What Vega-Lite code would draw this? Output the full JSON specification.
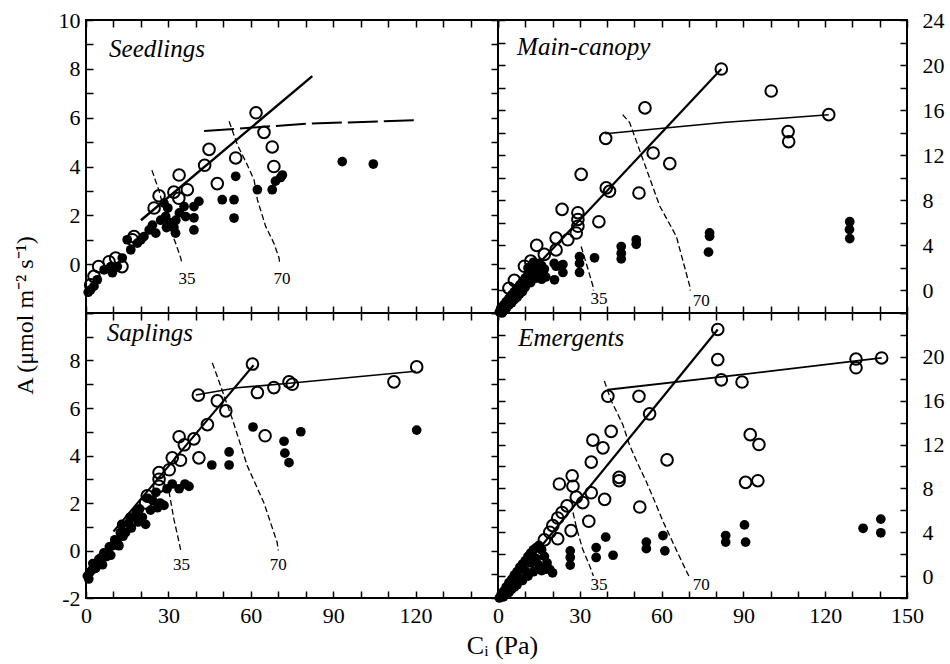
{
"$schema": "https://vega.github.io/schema/vega-lite/v6.json",
"autosize": {"type": "pad"},
"padding": {"left": 12, "top": 8, "right": 2, "bottom": 2},
"background": "white",
"config": {
  "view": {"stroke": "black", "strokeWidth": 2},
  "font": "Liberation Serif",
  "axis": {"domain": false, "grid": false, "labelFont": "Liberation Serif", "labelFontSize": 22, "labelColor": "black", "labelFlush": false, "labelOverlap": false, "titleFont": "Liberation Serif", "titleFontSize": 24, "titleFontWeight": "normal", "titleColor": "black"}
},
"datasets": {
  "pts": [
    {"p":"S","t":"o","x":61.9,"y":6.2},{"p":"S","t":"o","x":64.8,"y":5.4},{"p":"S","t":"o","x":67.8,"y":4.8},{"p":"S","t":"o","x":68.4,"y":4.0},{"p":"S","t":"o","x":54.5,"y":4.35},{"p":"S","t":"o","x":47.8,"y":3.3},{"p":"S","t":"o","x":44.8,"y":4.7},{"p":"S","t":"o","x":43.2,"y":4.05},{"p":"S","t":"o","x":33.9,"y":3.65},{"p":"S","t":"o","x":36.9,"y":3.05},{"p":"S","t":"o","x":32.0,"y":2.95},{"p":"S","t":"o","x":33.8,"y":2.7},{"p":"S","t":"o","x":26.6,"y":2.8},{"p":"S","t":"o","x":24.8,"y":2.3},{"p":"S","t":"o","x":17.5,"y":1.13},{"p":"S","t":"o","x":16.9,"y":1.0},{"p":"S","t":"o","x":10.8,"y":0.25},{"p":"S","t":"o","x":8.4,"y":0.1},{"p":"S","t":"o","x":2.9,"y":-0.5},{"p":"S","t":"o","x":1.7,"y":-0.85},{"p":"S","t":"o","x":4.6,"y":-0.1},{"p":"S","t":"o","x":13.1,"y":-0.1},
    {"p":"S","t":"f","x":93.3,"y":4.2},{"p":"S","t":"f","x":104.6,"y":4.1},{"p":"S","t":"f","x":71.5,"y":3.65},{"p":"S","t":"f","x":70.9,"y":3.55},{"p":"S","t":"f","x":69.0,"y":3.4},{"p":"S","t":"f","x":67.8,"y":3.05},{"p":"S","t":"f","x":62.4,"y":3.05},{"p":"S","t":"f","x":54.5,"y":3.6},{"p":"S","t":"f","x":53.9,"y":2.64},{"p":"S","t":"f","x":49.6,"y":2.64},{"p":"S","t":"f","x":53.9,"y":1.89},{"p":"S","t":"f","x":41.1,"y":2.57},{"p":"S","t":"f","x":39.3,"y":2.36},{"p":"S","t":"f","x":39.3,"y":1.9},{"p":"S","t":"f","x":39.3,"y":1.4},{"p":"S","t":"f","x":35.7,"y":2.36},{"p":"S","t":"f","x":36.3,"y":1.95},{"p":"S","t":"f","x":32.7,"y":1.8},{"p":"S","t":"f","x":32.0,"y":1.5},{"p":"S","t":"f","x":32.6,"y":1.27},{"p":"S","t":"f","x":29.0,"y":1.95},{"p":"S","t":"f","x":29.3,"y":1.5},{"p":"S","t":"f","x":27.2,"y":1.8},{"p":"S","t":"f","x":25.4,"y":1.27},{"p":"S","t":"f","x":24.2,"y":1.6},{"p":"S","t":"f","x":21.1,"y":1.13},{"p":"S","t":"f","x":18.7,"y":0.86},{"p":"S","t":"f","x":16.3,"y":0.59},{"p":"S","t":"f","x":15.0,"y":1.0},{"p":"S","t":"f","x":13.2,"y":0.25},{"p":"S","t":"f","x":9.0,"y":-0.1},{"p":"S","t":"f","x":6.6,"y":-0.23},{"p":"S","t":"f","x":4.1,"y":-0.64},{"p":"S","t":"f","x":1.7,"y":-1.05},{"p":"S","t":"f","x":28.4,"y":2.5},{"p":"S","t":"f","x":29.8,"y":2.3},{"p":"S","t":"f","x":11.4,"y":-0.1},{"p":"S","t":"f","x":9.6,"y":-0.35},{"p":"S","t":"f","x":2.9,"y":-0.9},{"p":"S","t":"f","x":0.8,"y":-1.15},{"p":"S","t":"f","x":20.0,"y":1.0},{"p":"S","t":"f","x":23.0,"y":1.4},{"p":"S","t":"f","x":30.5,"y":1.7},{"p":"S","t":"f","x":34.0,"y":2.1},
    {"p":"M","t":"o","x":81.9,"y":19.65},{"p":"M","t":"o","x":100.2,"y":17.7},{"p":"M","t":"o","x":121.3,"y":15.6},{"p":"M","t":"o","x":106.4,"y":14.1},{"p":"M","t":"o","x":106.6,"y":13.2},{"p":"M","t":"o","x":53.9,"y":16.2},{"p":"M","t":"o","x":39.5,"y":13.5},{"p":"M","t":"o","x":56.9,"y":12.2},{"p":"M","t":"o","x":63.0,"y":11.25},{"p":"M","t":"o","x":30.5,"y":10.3},{"p":"M","t":"o","x":39.7,"y":9.1},{"p":"M","t":"o","x":40.9,"y":8.8},{"p":"M","t":"o","x":51.7,"y":8.65},{"p":"M","t":"o","x":23.5,"y":7.2},{"p":"M","t":"o","x":29.3,"y":6.9},{"p":"M","t":"o","x":29.3,"y":6.3},{"p":"M","t":"o","x":29.3,"y":5.7},{"p":"M","t":"o","x":37.0,"y":6.1},{"p":"M","t":"o","x":28.7,"y":5.1},{"p":"M","t":"o","x":25.6,"y":4.5},{"p":"M","t":"o","x":21.3,"y":4.65},{"p":"M","t":"o","x":21.3,"y":3.6},{"p":"M","t":"o","x":14.2,"y":4.0},{"p":"M","t":"o","x":9.7,"y":2.15},{"p":"M","t":"o","x":17.0,"y":3.2},{"p":"M","t":"o","x":12.0,"y":2.6},{"p":"M","t":"o","x":6.0,"y":0.9},{"p":"M","t":"o","x":4.0,"y":0.2},
    {"p":"M","t":"f","x":21.3,"y":2.15},{"p":"M","t":"f","x":23.8,"y":2.3},{"p":"M","t":"f","x":20.7,"y":0.95},{"p":"M","t":"f","x":23.8,"y":1.6},{"p":"M","t":"f","x":29.9,"y":3.0},{"p":"M","t":"f","x":29.9,"y":2.4},{"p":"M","t":"f","x":29.9,"y":1.6},{"p":"M","t":"f","x":35.4,"y":2.9},{"p":"M","t":"f","x":45.2,"y":3.9},{"p":"M","t":"f","x":45.2,"y":3.3},{"p":"M","t":"f","x":45.2,"y":2.8},{"p":"M","t":"f","x":50.7,"y":4.5},{"p":"M","t":"f","x":50.7,"y":4.1},{"p":"M","t":"f","x":77.6,"y":5.1},{"p":"M","t":"f","x":77.6,"y":4.8},{"p":"M","t":"f","x":77.2,"y":3.4},{"p":"M","t":"f","x":129.0,"y":6.1},{"p":"M","t":"f","x":128.9,"y":5.4},{"p":"M","t":"f","x":129.0,"y":4.6},{"p":"M","t":"f","x":20.6,"y":2.4},
    {"p":"M","t":"f","x":0.5,"y":-1.9},{"p":"M","t":"f","x":1,"y":-1.6},{"p":"M","t":"f","x":2,"y":-1.3},{"p":"M","t":"f","x":3,"y":-1.0},{"p":"M","t":"f","x":4,"y":-0.7},{"p":"M","t":"f","x":5,"y":-0.4},{"p":"M","t":"f","x":6,"y":-0.1},{"p":"M","t":"f","x":7,"y":0.2},{"p":"M","t":"f","x":8,"y":0.5},{"p":"M","t":"f","x":9,"y":0.8},{"p":"M","t":"f","x":10,"y":1.1},{"p":"M","t":"f","x":11,"y":1.4},{"p":"M","t":"f","x":12,"y":1.6},{"p":"M","t":"f","x":13,"y":1.9},{"p":"M","t":"f","x":14,"y":2.1},{"p":"M","t":"f","x":15,"y":2.4},{"p":"M","t":"f","x":16,"y":2.2},{"p":"M","t":"f","x":17,"y":1.9},{"p":"M","t":"f","x":12,"y":0.7},{"p":"M","t":"f","x":14,"y":1.1},{"p":"M","t":"f","x":10,"y":0.3},{"p":"M","t":"f","x":8,"y":-0.3},{"p":"M","t":"f","x":6,"y":-0.8},{"p":"M","t":"f","x":4,"y":-1.3},{"p":"M","t":"f","x":2,"y":-1.8},{"p":"M","t":"f","x":16,"y":1.0},{"p":"M","t":"f","x":13,"y":2.5},{"p":"M","t":"f","x":11,"y":2.0},{"p":"M","t":"f","x":15,"y":1.6},{"p":"M","t":"f","x":9,"y":-0.1},{"p":"M","t":"f","x":7,"y":-0.6},{"p":"M","t":"f","x":5,"y":-1.1},{"p":"M","t":"f","x":3,"y":-1.6},{"p":"M","t":"f","x":17.5,"y":1.2},{"p":"M","t":"f","x":1.5,"y":-2.0},
    {"p":"A","t":"o","x":60.6,"y":7.85},{"p":"A","t":"o","x":120.4,"y":7.73},{"p":"A","t":"o","x":112.1,"y":7.1},{"p":"A","t":"o","x":73.9,"y":7.1},{"p":"A","t":"o","x":75.1,"y":7.0},{"p":"A","t":"o","x":68.4,"y":6.86},{"p":"A","t":"o","x":62.4,"y":6.65},{"p":"A","t":"o","x":40.9,"y":6.54},{"p":"A","t":"o","x":47.8,"y":6.3},{"p":"A","t":"o","x":50.9,"y":5.88},{"p":"A","t":"o","x":44.2,"y":5.3},{"p":"A","t":"o","x":65.2,"y":4.83},{"p":"A","t":"o","x":33.9,"y":4.79},{"p":"A","t":"o","x":39.3,"y":4.7},{"p":"A","t":"o","x":35.8,"y":4.45},{"p":"A","t":"o","x":41.1,"y":3.9},{"p":"A","t":"o","x":31.4,"y":3.9},{"p":"A","t":"o","x":34.4,"y":3.8},{"p":"A","t":"o","x":26.6,"y":3.28},{"p":"A","t":"o","x":26.6,"y":3.0},{"p":"A","t":"o","x":26.6,"y":2.7},{"p":"A","t":"o","x":30.3,"y":3.4},{"p":"A","t":"o","x":22.3,"y":2.3},{"p":"A","t":"o","x":21.7,"y":2.0},
    {"p":"A","t":"f","x":120.4,"y":5.07},{"p":"A","t":"f","x":78.2,"y":5.0},{"p":"A","t":"f","x":60.8,"y":5.2},{"p":"A","t":"f","x":72.1,"y":4.6},{"p":"A","t":"f","x":72.4,"y":4.1},{"p":"A","t":"f","x":73.9,"y":3.7},{"p":"A","t":"f","x":52.1,"y":4.15},{"p":"A","t":"f","x":52.1,"y":3.6},{"p":"A","t":"f","x":45.8,"y":3.6},{"p":"A","t":"f","x":37.5,"y":2.7},{"p":"A","t":"f","x":33.9,"y":2.6},{"p":"A","t":"f","x":31.4,"y":2.8},{"p":"A","t":"f","x":28.4,"y":1.9},{"p":"A","t":"f","x":24.3,"y":2.1},{"p":"A","t":"f","x":21.7,"y":1.1},{"p":"A","t":"f","x":18.3,"y":1.6},{"p":"A","t":"f","x":14.4,"y":0.76},{"p":"A","t":"f","x":9.6,"y":0.2},{"p":"A","t":"f","x":4.7,"y":-0.37},{"p":"A","t":"f","x":2.3,"y":-0.8},{"p":"A","t":"f","x":0.5,"y":-1.07},
    {"p":"A","t":"f","x":1.5,"y":-0.9},{"p":"A","t":"f","x":2.5,"y":-0.55},{"p":"A","t":"f","x":3.5,"y":-0.75},{"p":"A","t":"f","x":5.5,"y":-0.3},{"p":"A","t":"f","x":6.5,"y":-0.1},{"p":"A","t":"f","x":7.5,"y":-0.25},{"p":"A","t":"f","x":8.5,"y":0.15},{"p":"A","t":"f","x":10.5,"y":0.45},{"p":"A","t":"f","x":11.5,"y":0.3},{"p":"A","t":"f","x":12.5,"y":0.75},{"p":"A","t":"f","x":13.5,"y":0.6},{"p":"A","t":"f","x":15.5,"y":1.15},{"p":"A","t":"f","x":16.5,"y":0.95},{"p":"A","t":"f","x":17.5,"y":1.4},{"p":"A","t":"f","x":19.5,"y":1.75},{"p":"A","t":"f","x":20.5,"y":1.4},{"p":"A","t":"f","x":22.5,"y":2.2},{"p":"A","t":"f","x":25.5,"y":2.45},{"p":"A","t":"f","x":27.0,"y":2.0},{"p":"A","t":"f","x":29.5,"y":2.6},{"p":"A","t":"f","x":36.0,"y":2.8},{"p":"A","t":"f","x":6.0,"y":-0.6},{"p":"A","t":"f","x":9.0,"y":-0.2},{"p":"A","t":"f","x":12.0,"y":0.2},{"p":"A","t":"f","x":1.0,"y":-1.2},{"p":"A","t":"f","x":13.0,"y":1.1},{"p":"A","t":"f","x":16.0,"y":1.4},{"p":"A","t":"f","x":19.0,"y":1.2},{"p":"A","t":"f","x":23.5,"y":1.7},{"p":"A","t":"f","x":26.0,"y":1.8},
    {"p":"E","t":"o","x":80.6,"y":22.5},{"p":"E","t":"o","x":80.6,"y":19.75},{"p":"E","t":"o","x":81.9,"y":17.9},{"p":"E","t":"o","x":89.5,"y":17.7},{"p":"E","t":"o","x":92.5,"y":12.9},{"p":"E","t":"o","x":95.7,"y":12.0},{"p":"E","t":"o","x":90.8,"y":8.55},{"p":"E","t":"o","x":95.3,"y":8.7},{"p":"E","t":"o","x":131.3,"y":19.8},{"p":"E","t":"o","x":131.3,"y":19.0},{"p":"E","t":"o","x":140.7,"y":19.9},{"p":"E","t":"o","x":40.3,"y":16.4},{"p":"E","t":"o","x":51.7,"y":16.4},{"p":"E","t":"o","x":55.6,"y":14.8},{"p":"E","t":"o","x":41.5,"y":13.2},{"p":"E","t":"o","x":34.8,"y":12.4},{"p":"E","t":"o","x":38.5,"y":11.7},{"p":"E","t":"o","x":34.2,"y":10.4},{"p":"E","t":"o","x":62.0,"y":10.6},{"p":"E","t":"o","x":44.4,"y":9.0},{"p":"E","t":"o","x":44.4,"y":8.7},{"p":"E","t":"o","x":27.2,"y":9.15},{"p":"E","t":"o","x":22.5,"y":8.4},{"p":"E","t":"o","x":27.5,"y":8.2},{"p":"E","t":"o","x":34.2,"y":7.6},{"p":"E","t":"o","x":39.1,"y":7.0},{"p":"E","t":"o","x":31.1,"y":6.7},{"p":"E","t":"o","x":25.3,"y":6.4},{"p":"E","t":"o","x":52.0,"y":6.3},{"p":"E","t":"o","x":33.3,"y":5.0},{"p":"E","t":"o","x":21.9,"y":5.3},{"p":"E","t":"o","x":26.8,"y":4.15},{"p":"E","t":"o","x":21.9,"y":3.4},{"p":"E","t":"o","x":20.1,"y":4.6},{"p":"E","t":"o","x":28.7,"y":7.2},{"p":"E","t":"o","x":23.5,"y":5.8},{"p":"E","t":"o","x":17.0,"y":3.3},{"p":"E","t":"o","x":19.0,"y":4.0},
    {"p":"E","t":"f","x":39.5,"y":3.55},{"p":"E","t":"f","x":36.0,"y":2.6},{"p":"E","t":"f","x":36.0,"y":1.7},{"p":"E","t":"f","x":42.2,"y":1.9},{"p":"E","t":"f","x":26.5,"y":2.3},{"p":"E","t":"f","x":26.5,"y":1.7},{"p":"E","t":"f","x":26.5,"y":1.0},{"p":"E","t":"f","x":54.4,"y":3.1},{"p":"E","t":"f","x":54.4,"y":2.5},{"p":"E","t":"f","x":60.5,"y":3.7},{"p":"E","t":"f","x":61.2,"y":2.3},{"p":"E","t":"f","x":83.5,"y":3.7},{"p":"E","t":"f","x":83.5,"y":3.1},{"p":"E","t":"f","x":90.4,"y":4.67},{"p":"E","t":"f","x":90.8,"y":3.1},{"p":"E","t":"f","x":133.9,"y":4.36},{"p":"E","t":"f","x":140.4,"y":5.2},{"p":"E","t":"f","x":140.4,"y":3.95},
    {"p":"E","t":"f","x":1,"y":-1.8},{"p":"E","t":"f","x":2,"y":-1.4},{"p":"E","t":"f","x":3,"y":-1.0},{"p":"E","t":"f","x":4,"y":-0.6},{"p":"E","t":"f","x":5,"y":-0.3},{"p":"E","t":"f","x":6,"y":0.1},{"p":"E","t":"f","x":7,"y":0.4},{"p":"E","t":"f","x":8,"y":0.8},{"p":"E","t":"f","x":9,"y":1.1},{"p":"E","t":"f","x":10,"y":1.4},{"p":"E","t":"f","x":11,"y":1.8},{"p":"E","t":"f","x":12,"y":2.1},{"p":"E","t":"f","x":13,"y":2.4},{"p":"E","t":"f","x":14,"y":2.6},{"p":"E","t":"f","x":15,"y":2.8},{"p":"E","t":"f","x":16,"y":2.4},{"p":"E","t":"f","x":17,"y":1.8},{"p":"E","t":"f","x":18,"y":1.2},{"p":"E","t":"f","x":19,"y":0.6},{"p":"E","t":"f","x":20,"y":0.3},{"p":"E","t":"f","x":15,"y":1.0},{"p":"E","t":"f","x":13,"y":0.4},{"p":"E","t":"f","x":11,"y":0.0},{"p":"E","t":"f","x":9,"y":-0.4},{"p":"E","t":"f","x":7,"y":-0.8},{"p":"E","t":"f","x":5,"y":-1.2},{"p":"E","t":"f","x":3,"y":-1.6},{"p":"E","t":"f","x":12,"y":1.2},{"p":"E","t":"f","x":16,"y":0.5},{"p":"E","t":"f","x":10,"y":0.5},{"p":"E","t":"f","x":8,"y":-0.2},{"p":"E","t":"f","x":14,"y":1.6},{"p":"E","t":"f","x":17,"y":0.6},{"p":"E","t":"f","x":0.5,"y":-2.0},{"p":"E","t":"f","x":6,"y":-1.0},{"p":"E","t":"f","x":4,"y":-1.5},{"p":"E","t":"f","x":2,"y":-1.9}
  ],
  "lines": [
    {"p":"S","s":"fit","x":20,"y":1.8},{"p":"S","s":"fit","x":82.4,"y":7.7},
    {"p":"S","s":"plat","x":43,"y":5.45},{"p":"S","s":"plat","x":80,"y":5.75},{"p":"S","s":"plat","x":120.5,"y":5.9},
    {"p":"S","s":"c35","x":24,"y":3.85},{"p":"S","s":"c35","x":26.6,"y":3.0},{"p":"S","s":"c35","x":29.5,"y":1.8},{"p":"S","s":"c35","x":32.5,"y":0.9},{"p":"S","s":"c35","x":34.5,"y":0.25},{"p":"S","s":"c35","x":35,"y":0},
    {"p":"S","s":"c70","x":52.1,"y":5.85},{"p":"S","s":"c70","x":55.1,"y":4.89},{"p":"S","s":"c70","x":58.7,"y":4.07},{"p":"S","s":"c70","x":61.2,"y":3.45},{"p":"S","s":"c70","x":62.4,"y":2.64},{"p":"S","s":"c70","x":65.4,"y":1.55},{"p":"S","s":"c70","x":68.4,"y":0.86},{"p":"S","s":"c70","x":70.3,"y":0.25},{"p":"S","s":"c70","x":70.5,"y":0},
    {"p":"M","s":"fit","x":3,"y":-0.7},{"p":"M","s":"fit","x":81.9,"y":19.65},
    {"p":"M","s":"plat","x":39.3,"y":13.9},{"p":"M","s":"plat","x":82.5,"y":14.9},{"p":"M","s":"plat","x":121.3,"y":15.6},
    {"p":"M","s":"c35","x":30.5,"y":3.9},{"p":"M","s":"c35","x":33,"y":1.9},{"p":"M","s":"c35","x":34.8,"y":0.4},{"p":"M","s":"c35","x":35,"y":0},
    {"p":"M","s":"c70","x":45.7,"y":15.6},{"p":"M","s":"c70","x":48.3,"y":14.9},{"p":"M","s":"c70","x":53.2,"y":11.6},{"p":"M","s":"c70","x":59.3,"y":7.5},{"p":"M","s":"c70","x":65.4,"y":4.8},{"p":"M","s":"c70","x":70.3,"y":0.4},{"p":"M","s":"c70","x":70.5,"y":0},
    {"p":"A","s":"fit","x":10,"y":0.8},{"p":"A","s":"fit","x":61,"y":7.8},
    {"p":"A","s":"plat","x":40,"y":6.55},{"p":"A","s":"plat","x":55,"y":6.85},{"p":"A","s":"plat","x":75,"y":7.05},{"p":"A","s":"plat","x":120,"y":7.55},
    {"p":"A","s":"c35","x":30.2,"y":2.5},{"p":"A","s":"c35","x":32,"y":1.32},{"p":"A","s":"c35","x":33.9,"y":0.34},{"p":"A","s":"c35","x":34.5,"y":0},
    {"p":"A","s":"c70","x":46,"y":7.9},{"p":"A","s":"c70","x":49,"y":6.93},{"p":"A","s":"c70","x":53.3,"y":5.53},{"p":"A","s":"c70","x":58.7,"y":3.57},{"p":"A","s":"c70","x":64.8,"y":2.0},{"p":"A","s":"c70","x":69.6,"y":0.34},{"p":"A","s":"c70","x":70,"y":0},
    {"p":"E","s":"fit","x":5,"y":-0.6},{"p":"E","s":"fit","x":80.6,"y":22.5},
    {"p":"E","s":"plat","x":40.2,"y":17.0},{"p":"E","s":"plat","x":89.8,"y":18.4},{"p":"E","s":"plat","x":140.7,"y":19.9},
    {"p":"E","s":"c35","x":27.5,"y":5.8},{"p":"E","s":"c35","x":29,"y":4.2},{"p":"E","s":"c35","x":31,"y":2.5},{"p":"E","s":"c35","x":33.5,"y":1.0},{"p":"E","s":"c35","x":35,"y":0},
    {"p":"E","s":"c70","x":39,"y":17.8},{"p":"E","s":"c70","x":41.5,"y":16.0},{"p":"E","s":"c70","x":43.5,"y":15.0},{"p":"E","s":"c70","x":45.8,"y":13.8},{"p":"E","s":"c70","x":48.3,"y":11.9},{"p":"E","s":"c70","x":51,"y":10.4},{"p":"E","s":"c70","x":54.4,"y":8.6},{"p":"E","s":"c70","x":57.5,"y":6.8},{"p":"E","s":"c70","x":60.5,"y":5.0},{"p":"E","s":"c70","x":63.5,"y":3.4},{"p":"E","s":"c70","x":66.5,"y":1.8},{"p":"E","s":"c70","x":69.2,"y":0.4},{"p":"E","s":"c70","x":70,"y":0}
  ],
  "lab": [
    {"p":"S","k":"num","text":"35","x":36.8,"y":-0.6},{"p":"S","k":"num","text":"70","x":71.4,"y":-0.6},
    {"p":"M","k":"num","text":"35","x":37,"y":-0.8},{"p":"M","k":"num","text":"70","x":74.5,"y":-0.9},
    {"p":"A","k":"num","text":"35","x":34.8,"y":-0.6},{"p":"A","k":"num","text":"70","x":70,"y":-0.6},
    {"p":"E","k":"num","text":"35","x":37,"y":-0.85},{"p":"E","k":"num","text":"70","x":74.5,"y":-0.85},
    {"p":"S","k":"name","text":"Seedlings","x":8.4,"y":8.5},
    {"p":"M","k":"name","text":"Main-canopy","x":7,"y":20.9},
    {"p":"A","k":"name","text":"Saplings","x":7.6,"y":8.84},
    {"p":"E","k":"name","text":"Emergents","x":7.4,"y":21.0}
  ]
},
"concat": [
  {
    "width": 412, "height": 293,
    "layer": [
      {"mark": {"type": "rule", "color": "black", "strokeWidth": 2}, "encoding": {"y": {"datum": 0, "type": "quantitative", "scale": {"domain": [-2, 10], "nice": false, "zero": false}, "axis": null}}},
      {"data": {"name": "lines"}, "transform": [{"filter": "datum.p == 'S' && datum.s == 'fit'"}], "mark": {"type": "line", "color": "black", "strokeWidth": 2.4}, "encoding": {"x": {"field": "x", "type": "quantitative", "scale": {"domain": [0, 150], "nice": false, "zero": false}, "axis": null}, "y": {"field": "y", "type": "quantitative", "scale": {"domain": [-2, 10], "nice": false, "zero": false}, "axis": null}}},
      {"data": {"name": "lines"}, "transform": [{"filter": "datum.p == 'S' && datum.s == 'plat'"}], "mark": {"type": "line", "color": "black", "strokeWidth": 2, "strokeDash": [30, 6]}, "encoding": {"x": {"field": "x", "type": "quantitative", "scale": {"domain": [0, 150], "nice": false, "zero": false}, "axis": null}, "y": {"field": "y", "type": "quantitative", "scale": {"domain": [-2, 10], "nice": false, "zero": false}, "axis": null}}},
      {"data": {"name": "lines"}, "transform": [{"filter": "datum.p == 'S' && (datum.s == 'c35' || datum.s == 'c70')"}], "mark": {"type": "line", "color": "black", "strokeWidth": 1.3, "strokeDash": [6, 3]}, "encoding": {"x": {"field": "x", "type": "quantitative", "scale": {"domain": [0, 150], "nice": false, "zero": false}, "axis": null}, "y": {"field": "y", "type": "quantitative", "scale": {"domain": [-2, 10], "nice": false, "zero": false}, "axis": null}, "detail": {"field": "s"}}},
      {"data": {"name": "pts"}, "transform": [{"filter": "datum.p == 'S' && datum.t == 'f'"}], "mark": {"type": "point", "shape": "circle", "filled": true, "color": "black", "opacity": 1, "size": 95},
       "encoding": {"x": {"field": "x", "type": "quantitative", "scale": {"domain": [0, 150], "nice": false, "zero": false}, "axis": {"orient": "top", "values": [0,10,20,30,40,50,60,70,80,90,100,110,120,130,140,150], "labels": false, "ticks": false, "title": null}},
                    "y": {"field": "y", "type": "quantitative", "scale": {"domain": [-2, 10], "nice": false, "zero": false}, "axis": {"orient": "right", "values": [-2,-1,0,1,2,3,4,5,6,7,8,9,10], "labels": false, "ticks": false, "title": null}}}},
      {"data": {"name": "pts"}, "transform": [{"filter": "datum.p == 'S' && datum.t == 'o'"}], "mark": {"type": "point", "shape": "circle", "filled": false, "color": "black", "strokeWidth": 2, "opacity": 1, "size": 135},
       "encoding": {"x": {"field": "x", "type": "quantitative", "scale": {"domain": [0, 150], "nice": false, "zero": false}, "axis": {"orient": "bottom", "values": [0,10,20,30,40,50,60,70,80,90,100,110,120,130,140,150], "labels": false, "ticks": false, "title": null, "grid": true, "gridColor": "black", "gridWidth": 1.5, "gridOpacity": 1, "gridDash": [7, 279, 7, 3000]}},
                    "y": {"field": "y", "type": "quantitative", "scale": {"domain": [-2, 10], "nice": false, "zero": false}, "axis": {"orient": "left", "values": [-2,-1,0,1,2,3,4,5,6,7,8,9,10], "labelExpr": "datum.value >= 0 && datum.value % 2 == 0 ? '' + datum.value : ''", "labelPadding": 6, "ticks": false, "grid": true, "gridColor": "black", "gridWidth": 1.5, "gridOpacity": 1, "gridDash": [7, 398, 7, 3000], "title": "A (μmol m⁻² s⁻¹)", "titleX": -61, "titleY": 295, "titleAngle": -90, "titleAlign": "center", "titleBaseline": "middle"}}}},
      {"data": {"name": "lab"}, "transform": [{"filter": "datum.p == 'S' && datum.k == 'num'"}], "mark": {"type": "text", "font": "Liberation Serif", "fontSize": 17, "align": "center", "baseline": "middle", "color": "black"}, "encoding": {"x": {"field": "x", "type": "quantitative", "scale": {"domain": [0, 150], "nice": false, "zero": false}, "axis": null}, "y": {"field": "y", "type": "quantitative", "scale": {"domain": [-2, 10], "nice": false, "zero": false}, "axis": null}, "text": {"field": "text"}}},
      {"data": {"name": "lab"}, "transform": [{"filter": "datum.p == 'S' && datum.k == 'name'"}], "mark": {"type": "text", "font": "Liberation Serif", "fontSize": 25, "fontStyle": "italic", "align": "left", "baseline": "alphabetic", "color": "black"}, "encoding": {"x": {"field": "x", "type": "quantitative", "scale": {"domain": [0, 150], "nice": false, "zero": false}, "axis": null}, "y": {"field": "y", "type": "quantitative", "scale": {"domain": [-2, 10], "nice": false, "zero": false}, "axis": null}, "text": {"field": "text"}}}
    ],
    "resolve": {"axis": {"x": "independent", "y": "independent"}}
  },
  {
    "width": 409, "height": 293,
    "layer": [
      {"mark": {"type": "rule", "color": "black", "strokeWidth": 2}, "encoding": {"y": {"datum": 0, "type": "quantitative", "scale": {"domain": [-2, 24], "nice": false, "zero": false}, "axis": null}}},
      {"data": {"name": "lines"}, "transform": [{"filter": "datum.p == 'M' && datum.s == 'fit'"}], "mark": {"type": "line", "color": "black", "strokeWidth": 2.2}, "encoding": {"x": {"field": "x", "type": "quantitative", "scale": {"domain": [0, 150], "nice": false, "zero": false}, "axis": null}, "y": {"field": "y", "type": "quantitative", "scale": {"domain": [-2, 24], "nice": false, "zero": false}, "axis": null}}},
      {"data": {"name": "lines"}, "transform": [{"filter": "datum.p == 'M' && datum.s == 'plat'"}], "mark": {"type": "line", "color": "black", "strokeWidth": 1.5}, "encoding": {"x": {"field": "x", "type": "quantitative", "scale": {"domain": [0, 150], "nice": false, "zero": false}, "axis": null}, "y": {"field": "y", "type": "quantitative", "scale": {"domain": [-2, 24], "nice": false, "zero": false}, "axis": null}}},
      {"data": {"name": "lines"}, "transform": [{"filter": "datum.p == 'M' && (datum.s == 'c35' || datum.s == 'c70')"}], "mark": {"type": "line", "color": "black", "strokeWidth": 1.3, "strokeDash": [6, 3]}, "encoding": {"x": {"field": "x", "type": "quantitative", "scale": {"domain": [0, 150], "nice": false, "zero": false}, "axis": null}, "y": {"field": "y", "type": "quantitative", "scale": {"domain": [-2, 24], "nice": false, "zero": false}, "axis": null}, "detail": {"field": "s"}}},
      {"data": {"name": "pts"}, "transform": [{"filter": "datum.p == 'M' && datum.t == 'f'"}], "mark": {"type": "point", "shape": "circle", "filled": true, "color": "black", "opacity": 1, "size": 95},
       "encoding": {"x": {"field": "x", "type": "quantitative", "scale": {"domain": [0, 150], "nice": false, "zero": false}, "axis": {"orient": "top", "values": [0,10,20,30,40,50,60,70,80,90,100,110,120,130,140,150], "labels": false, "ticks": false, "title": null}},
                    "y": {"field": "y", "type": "quantitative", "scale": {"domain": [-2, 24], "nice": false, "zero": false}, "axis": {"orient": "left", "values": [-2,0,2,4,6,8,10,12,14,16,18,20,22,24], "labels": false, "ticks": false, "title": null}}}},
      {"data": {"name": "pts"}, "transform": [{"filter": "datum.p == 'M' && datum.t == 'o'"}], "mark": {"type": "point", "shape": "circle", "filled": false, "color": "black", "strokeWidth": 2, "opacity": 1, "size": 135},
       "encoding": {"x": {"field": "x", "type": "quantitative", "scale": {"domain": [0, 150], "nice": false, "zero": false}, "axis": {"orient": "bottom", "values": [0,10,20,30,40,50,60,70,80,90,100,110,120,130,140,150], "labels": false, "ticks": false, "title": null, "grid": true, "gridColor": "black", "gridWidth": 1.5, "gridOpacity": 1, "gridDash": [7, 279, 7, 3000]}},
                    "y": {"field": "y", "type": "quantitative", "scale": {"domain": [-2, 24], "nice": false, "zero": false}, "axis": {"orient": "right", "values": [-2,0,2,4,6,8,10,12,14,16,18,20,22,24], "labelExpr": "datum.value >= 0 && datum.value % 4 == 0 ? '' + datum.value : ''", "labelPadding": 15, "ticks": false, "grid": true, "gridColor": "black", "gridWidth": 1.5, "gridOpacity": 1, "gridDash": [7, 395, 7, 3000], "title": null}}}},
      {"data": {"name": "lab"}, "transform": [{"filter": "datum.p == 'M' && datum.k == 'num'"}], "mark": {"type": "text", "font": "Liberation Serif", "fontSize": 17, "align": "center", "baseline": "middle", "color": "black"}, "encoding": {"x": {"field": "x", "type": "quantitative", "scale": {"domain": [0, 150], "nice": false, "zero": false}, "axis": null}, "y": {"field": "y", "type": "quantitative", "scale": {"domain": [-2, 24], "nice": false, "zero": false}, "axis": null}, "text": {"field": "text"}}},
      {"data": {"name": "lab"}, "transform": [{"filter": "datum.p == 'M' && datum.k == 'name'"}], "mark": {"type": "text", "font": "Liberation Serif", "fontSize": 25, "fontStyle": "italic", "align": "left", "baseline": "alphabetic", "color": "black"}, "encoding": {"x": {"field": "x", "type": "quantitative", "scale": {"domain": [0, 150], "nice": false, "zero": false}, "axis": null}, "y": {"field": "y", "type": "quantitative", "scale": {"domain": [-2, 24], "nice": false, "zero": false}, "axis": null}, "text": {"field": "text"}}}
    ],
    "resolve": {"axis": {"x": "independent", "y": "independent"}}
  },
  {
    "width": 412, "height": 285,
    "layer": [
      {"mark": {"type": "rule", "color": "black", "strokeWidth": 2}, "encoding": {"y": {"datum": 0, "type": "quantitative", "scale": {"domain": [-2, 10], "nice": false, "zero": false}, "axis": null}}},
      {"data": {"name": "lines"}, "transform": [{"filter": "datum.p == 'A' && datum.s == 'fit'"}], "mark": {"type": "line", "color": "black", "strokeWidth": 2}, "encoding": {"x": {"field": "x", "type": "quantitative", "scale": {"domain": [0, 150], "nice": false, "zero": false}, "axis": null}, "y": {"field": "y", "type": "quantitative", "scale": {"domain": [-2, 10], "nice": false, "zero": false}, "axis": null}}},
      {"data": {"name": "lines"}, "transform": [{"filter": "datum.p == 'A' && datum.s == 'plat'"}], "mark": {"type": "line", "color": "black", "strokeWidth": 1.6}, "encoding": {"x": {"field": "x", "type": "quantitative", "scale": {"domain": [0, 150], "nice": false, "zero": false}, "axis": null}, "y": {"field": "y", "type": "quantitative", "scale": {"domain": [-2, 10], "nice": false, "zero": false}, "axis": null}}},
      {"data": {"name": "lines"}, "transform": [{"filter": "datum.p == 'A' && (datum.s == 'c35' || datum.s == 'c70')"}], "mark": {"type": "line", "color": "black", "strokeWidth": 1.3, "strokeDash": [6, 3]}, "encoding": {"x": {"field": "x", "type": "quantitative", "scale": {"domain": [0, 150], "nice": false, "zero": false}, "axis": null}, "y": {"field": "y", "type": "quantitative", "scale": {"domain": [-2, 10], "nice": false, "zero": false}, "axis": null}, "detail": {"field": "s"}}},
      {"data": {"name": "pts"}, "transform": [{"filter": "datum.p == 'A' && datum.t == 'f'"}], "mark": {"type": "point", "shape": "circle", "filled": true, "color": "black", "opacity": 1, "size": 95},
       "encoding": {"x": {"field": "x", "type": "quantitative", "scale": {"domain": [0, 150], "nice": false, "zero": false}, "axis": {"orient": "top", "values": [0,10,20,30,40,50,60,70,80,90,100,110,120,130,140,150], "labels": false, "ticks": false, "title": null}},
                    "y": {"field": "y", "type": "quantitative", "scale": {"domain": [-2, 10], "nice": false, "zero": false}, "axis": {"orient": "right", "values": [-2,-1,0,1,2,3,4,5,6,7,8,9,10], "labels": false, "ticks": false, "title": null}}}},
      {"data": {"name": "pts"}, "transform": [{"filter": "datum.p == 'A' && datum.t == 'o'"}], "mark": {"type": "point", "shape": "circle", "filled": false, "color": "black", "strokeWidth": 2, "opacity": 1, "size": 135},
       "encoding": {"x": {"field": "x", "type": "quantitative", "scale": {"domain": [0, 150], "nice": false, "zero": false}, "axis": {"orient": "bottom", "values": [0,10,20,30,40,50,60,70,80,90,100,110,120,130,140,150], "labelExpr": "datum.value % 30 == 0 && datum.value < 150 ? '' + datum.value : ''", "labelPadding": 7, "ticks": false, "grid": true, "gridColor": "black", "gridWidth": 1.5, "gridOpacity": 1, "gridDash": [7, 271, 7, 3000], "title": "Cᵢ (Pa)", "titleFontSize": 26, "titleX": 416, "titleY": 47, "titleAlign": "center", "titleBaseline": "middle"}},
                    "y": {"field": "y", "type": "quantitative", "scale": {"domain": [-2, 10], "nice": false, "zero": false}, "axis": {"orient": "left", "values": [-2,-1,0,1,2,3,4,5,6,7,8,9,10], "labelExpr": "datum.value < 10 && datum.value % 2 == 0 ? '' + datum.value : ''", "labelPadding": 6, "ticks": false, "grid": true, "gridColor": "black", "gridWidth": 1.5, "gridOpacity": 1, "gridDash": [7, 398, 7, 3000], "title": null}}}},
      {"data": {"name": "lab"}, "transform": [{"filter": "datum.p == 'A' && datum.k == 'num'"}], "mark": {"type": "text", "font": "Liberation Serif", "fontSize": 17, "align": "center", "baseline": "middle", "color": "black"}, "encoding": {"x": {"field": "x", "type": "quantitative", "scale": {"domain": [0, 150], "nice": false, "zero": false}, "axis": null}, "y": {"field": "y", "type": "quantitative", "scale": {"domain": [-2, 10], "nice": false, "zero": false}, "axis": null}, "text": {"field": "text"}}},
      {"data": {"name": "lab"}, "transform": [{"filter": "datum.p == 'A' && datum.k == 'name'"}], "mark": {"type": "text", "font": "Liberation Serif", "fontSize": 25, "fontStyle": "italic", "align": "left", "baseline": "alphabetic", "color": "black"}, "encoding": {"x": {"field": "x", "type": "quantitative", "scale": {"domain": [0, 150], "nice": false, "zero": false}, "axis": null}, "y": {"field": "y", "type": "quantitative", "scale": {"domain": [-2, 10], "nice": false, "zero": false}, "axis": null}, "text": {"field": "text"}}}
    ],
    "resolve": {"axis": {"x": "independent", "y": "independent"}}
  },
  {
    "width": 409, "height": 285,
    "layer": [
      {"mark": {"type": "rule", "color": "black", "strokeWidth": 2}, "encoding": {"y": {"datum": 0, "type": "quantitative", "scale": {"domain": [-2, 24], "nice": false, "zero": false}, "axis": null}}},
      {"data": {"name": "lines"}, "transform": [{"filter": "datum.p == 'E' && datum.s == 'fit'"}], "mark": {"type": "line", "color": "black", "strokeWidth": 2.2}, "encoding": {"x": {"field": "x", "type": "quantitative", "scale": {"domain": [0, 150], "nice": false, "zero": false}, "axis": null}, "y": {"field": "y", "type": "quantitative", "scale": {"domain": [-2, 24], "nice": false, "zero": false}, "axis": null}}},
      {"data": {"name": "lines"}, "transform": [{"filter": "datum.p == 'E' && datum.s == 'plat'"}], "mark": {"type": "line", "color": "black", "strokeWidth": 1.8}, "encoding": {"x": {"field": "x", "type": "quantitative", "scale": {"domain": [0, 150], "nice": false, "zero": false}, "axis": null}, "y": {"field": "y", "type": "quantitative", "scale": {"domain": [-2, 24], "nice": false, "zero": false}, "axis": null}}},
      {"data": {"name": "lines"}, "transform": [{"filter": "datum.p == 'E' && (datum.s == 'c35' || datum.s == 'c70')"}], "mark": {"type": "line", "color": "black", "strokeWidth": 1.3, "strokeDash": [6, 3]}, "encoding": {"x": {"field": "x", "type": "quantitative", "scale": {"domain": [0, 150], "nice": false, "zero": false}, "axis": null}, "y": {"field": "y", "type": "quantitative", "scale": {"domain": [-2, 24], "nice": false, "zero": false}, "axis": null}, "detail": {"field": "s"}}},
      {"data": {"name": "pts"}, "transform": [{"filter": "datum.p == 'E' && datum.t == 'f'"}], "mark": {"type": "point", "shape": "circle", "filled": true, "color": "black", "opacity": 1, "size": 95},
       "encoding": {"x": {"field": "x", "type": "quantitative", "scale": {"domain": [0, 150], "nice": false, "zero": false}, "axis": {"orient": "top", "values": [0,10,20,30,40,50,60,70,80,90,100,110,120,130,140,150], "labels": false, "ticks": false, "title": null}},
                    "y": {"field": "y", "type": "quantitative", "scale": {"domain": [-2, 24], "nice": false, "zero": false}, "axis": {"orient": "left", "values": [-2,0,2,4,6,8,10,12,14,16,18,20,22,24], "labels": false, "ticks": false, "title": null}}}},
      {"data": {"name": "pts"}, "transform": [{"filter": "datum.p == 'E' && datum.t == 'o'"}], "mark": {"type": "point", "shape": "circle", "filled": false, "color": "black", "strokeWidth": 2, "opacity": 1, "size": 135},
       "encoding": {"x": {"field": "x", "type": "quantitative", "scale": {"domain": [0, 150], "nice": false, "zero": false}, "axis": {"orient": "bottom", "values": [0,10,20,30,40,50,60,70,80,90,100,110,120,130,140,150], "labelExpr": "datum.value % 30 == 0 ? '' + datum.value : ''", "labelPadding": 7, "ticks": false, "grid": true, "gridColor": "black", "gridWidth": 1.5, "gridOpacity": 1, "gridDash": [7, 271, 7, 3000], "title": null}},
                    "y": {"field": "y", "type": "quantitative", "scale": {"domain": [-2, 24], "nice": false, "zero": false}, "axis": {"orient": "right", "values": [-2,0,2,4,6,8,10,12,14,16,18,20,22,24], "labelExpr": "datum.value >= 0 && datum.value <= 20 && datum.value % 4 == 0 ? '' + datum.value : ''", "labelPadding": 15, "ticks": false, "grid": true, "gridColor": "black", "gridWidth": 1.5, "gridOpacity": 1, "gridDash": [7, 395, 7, 3000], "title": null}}}},
      {"data": {"name": "lab"}, "transform": [{"filter": "datum.p == 'E' && datum.k == 'num'"}], "mark": {"type": "text", "font": "Liberation Serif", "fontSize": 17, "align": "center", "baseline": "middle", "color": "black"}, "encoding": {"x": {"field": "x", "type": "quantitative", "scale": {"domain": [0, 150], "nice": false, "zero": false}, "axis": null}, "y": {"field": "y", "type": "quantitative", "scale": {"domain": [-2, 24], "nice": false, "zero": false}, "axis": null}, "text": {"field": "text"}}},
      {"data": {"name": "lab"}, "transform": [{"filter": "datum.p == 'E' && datum.k == 'name'"}], "mark": {"type": "text", "font": "Liberation Serif", "fontSize": 25, "fontStyle": "italic", "align": "left", "baseline": "alphabetic", "color": "black"}, "encoding": {"x": {"field": "x", "type": "quantitative", "scale": {"domain": [0, 150], "nice": false, "zero": false}, "axis": null}, "y": {"field": "y", "type": "quantitative", "scale": {"domain": [-2, 24], "nice": false, "zero": false}, "axis": null}, "text": {"field": "text"}}}
    ],
    "resolve": {"axis": {"x": "independent", "y": "independent"}}
  }
],
"columns": 2,
"spacing": 0,
"bounds": "flush"
}
